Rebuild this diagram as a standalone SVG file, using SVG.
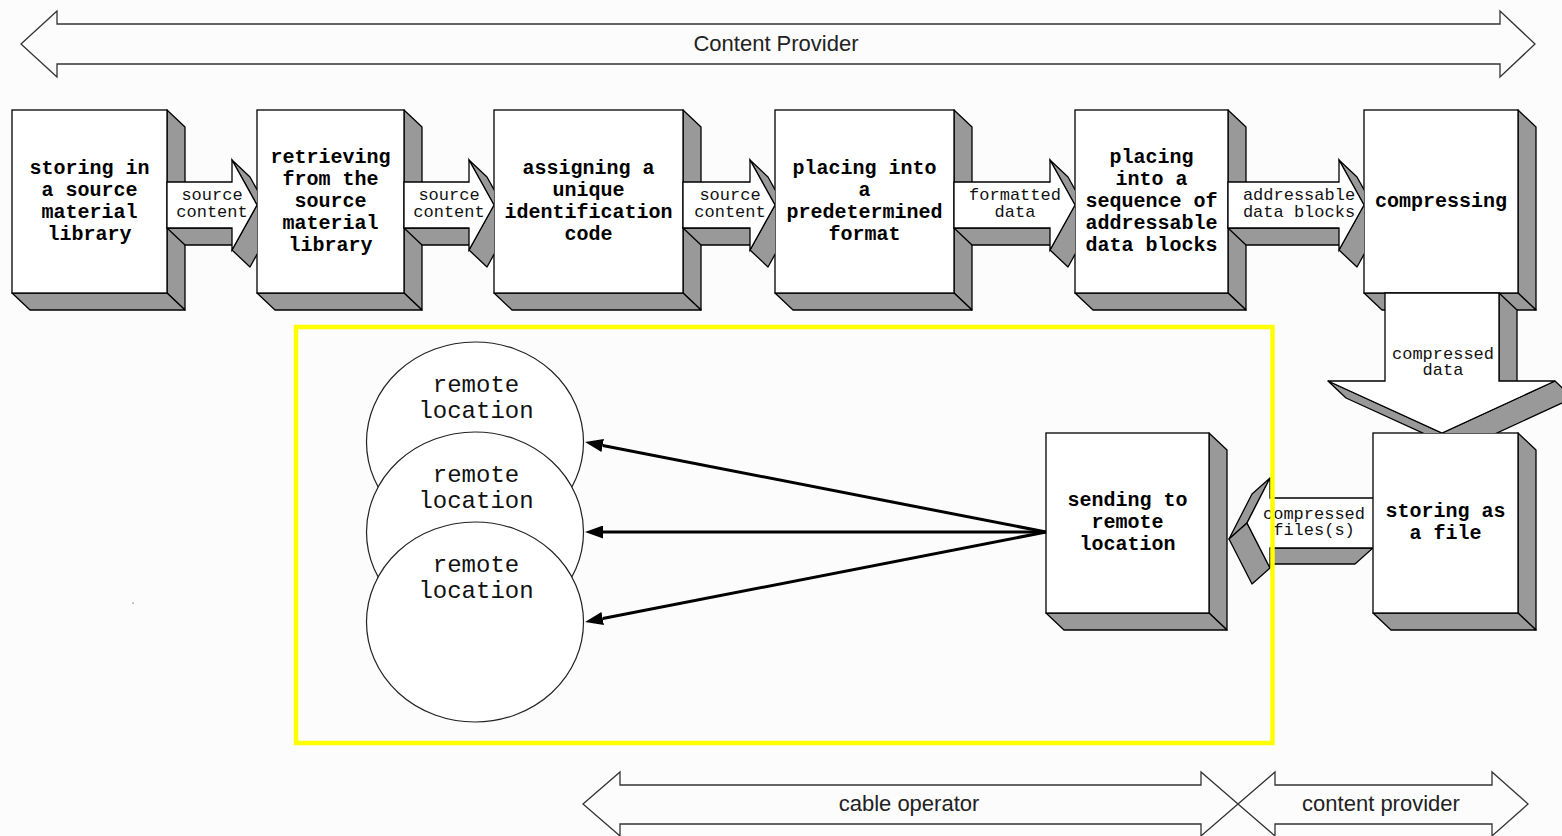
<svg xmlns="http://www.w3.org/2000/svg" width="1562" height="836" viewBox="0 0 1562 836">
<style>
.face{fill:#fff;stroke:#000;stroke-width:1.3;stroke-linejoin:miter}
.shade{fill:#999;stroke:#000;stroke-width:1.3;stroke-linejoin:round}
.bt{font-family:"Liberation Mono","DejaVu Sans Mono",monospace;font-weight:bold;font-size:20px;text-anchor:middle;fill:#000}
.lbl{font-family:"Liberation Mono","DejaVu Sans Mono",monospace;font-size:17px;text-anchor:middle;fill:#111}
.circ{fill:#fff;stroke:#222;stroke-width:1.2}
.ct{font-family:"Liberation Mono","DejaVu Sans Mono",monospace;font-size:24px;text-anchor:middle;fill:#111}
.span{fill:none;stroke:#333;stroke-width:1.3;stroke-linejoin:miter}
.st{font-family:"Liberation Sans",Arial,sans-serif;font-size:22px;text-anchor:middle;fill:#222}
.send{fill:none;stroke:#000;stroke-width:3}
</style>
<defs>
<marker id="ah" markerUnits="userSpaceOnUse" markerWidth="18" markerHeight="13" viewBox="0 0 18 13" refX="0" refY="6.5" orient="auto">
<path d="M0,0 L18,6.5 L0,13 z" fill="#000"/>
</marker>
<clipPath id="c1"><rect x="160" y="140" width="97" height="140"/></clipPath>
<clipPath id="c2"><rect x="400" y="140" width="94" height="140"/></clipPath>
<clipPath id="c3"><rect x="680" y="140" width="95" height="140"/></clipPath>
<clipPath id="c4"><rect x="950" y="140" width="125" height="140"/></clipPath>
<clipPath id="c5"><rect x="1225" y="140" width="139" height="140"/></clipPath>
<clipPath id="cd"><rect x="1300" y="285" width="262" height="148"/></clipPath>
<clipPath id="cl"><rect x="1228" y="460" width="145" height="140"/></clipPath>
</defs>
<rect x="0" y="0" width="1562" height="836" fill="#fcfcfc"/>

<g id="span-top">
<path class="span" d="M21,44 L57,11 L57,24 L1500,24 L1500,11 L1535,44 L1500,77 L1500,64 L57,64 L57,77 Z"/>
<text class="st" x="776" y="51">Content Provider</text>
</g>

<g id="n1">
<polygon class="shade" points="167,110 185,127 185,310 167,293"/>
<polygon class="shade" points="12,293 167,293 185,310 30,310"/>
<rect class="face" x="12" y="110" width="155" height="183"/>
<text class="bt" x="89.5" y="173.5">storing in</text>
<text class="bt" x="89.5" y="195.5">a source</text>
<text class="bt" x="89.5" y="217.5">material</text>
<text class="bt" x="89.5" y="239.5">library</text>
</g>
<g id="n2">
<polygon class="shade" points="404,110 422,127 422,310 404,293"/>
<polygon class="shade" points="257,293 404,293 422,310 275,310"/>
<rect class="face" x="257" y="110" width="147" height="183"/>
<text class="bt" x="330.5" y="162.5">retrieving</text>
<text class="bt" x="330.5" y="184.5">from the</text>
<text class="bt" x="330.5" y="206.5">source</text>
<text class="bt" x="330.5" y="228.5">material</text>
<text class="bt" x="330.5" y="250.5">library</text>
</g>
<g id="n3">
<polygon class="shade" points="683,110 701,127 701,310 683,293"/>
<polygon class="shade" points="494,293 683,293 701,310 512,310"/>
<rect class="face" x="494" y="110" width="189" height="183"/>
<text class="bt" x="588.5" y="173.5">assigning a</text>
<text class="bt" x="588.5" y="195.5">unique</text>
<text class="bt" x="588.5" y="217.5">identification</text>
<text class="bt" x="588.5" y="239.5">code</text>
</g>
<g id="n4">
<polygon class="shade" points="954,110 972,127 972,310 954,293"/>
<polygon class="shade" points="775,293 954,293 972,310 793,310"/>
<rect class="face" x="775" y="110" width="179" height="183"/>
<text class="bt" x="864.5" y="173.5">placing into</text>
<text class="bt" x="864.5" y="195.5">a</text>
<text class="bt" x="864.5" y="217.5">predetermined</text>
<text class="bt" x="864.5" y="239.5">format</text>
</g>
<g id="n5">
<polygon class="shade" points="1228,110 1246,127 1246,310 1228,293"/>
<polygon class="shade" points="1075,293 1228,293 1246,310 1093,310"/>
<rect class="face" x="1075" y="110" width="153" height="183"/>
<text class="bt" x="1151.5" y="162.5">placing</text>
<text class="bt" x="1151.5" y="184.5">into a</text>
<text class="bt" x="1151.5" y="206.5">sequence of</text>
<text class="bt" x="1151.5" y="228.5">addressable</text>
<text class="bt" x="1151.5" y="250.5">data blocks</text>
</g>
<g id="n6">
<polygon class="shade" points="1518,110 1536,127 1536,310 1518,293"/>
<polygon class="shade" points="1364,293 1518,293 1536,310 1382,310"/>
<rect class="face" x="1364" y="110" width="154" height="183"/>
<text class="bt" x="1441" y="206.5">compressing</text>
</g>
<g id="n7">
<polygon class="shade" points="1518,433 1536,450 1536,630 1518,613"/>
<polygon class="shade" points="1373,613 1518,613 1536,630 1391,630"/>
<rect class="face" x="1373" y="433" width="145" height="180"/>
<text class="bt" x="1445.5" y="517">storing as</text>
<text class="bt" x="1445.5" y="539">a file</text>
</g>
<g id="n8">
<polygon class="shade" points="1209,433 1227,450 1227,630 1209,613"/>
<polygon class="shade" points="1046,613 1209,613 1227,630 1064,630"/>
<rect class="face" x="1046" y="433" width="163" height="180"/>
<text class="bt" x="1127.5" y="506">sending to</text>
<text class="bt" x="1127.5" y="528">remote</text>
<text class="bt" x="1127.5" y="550">location</text>
</g>
<g id="r1">
<ellipse class="circ" cx="475" cy="442" rx="108.5" ry="100"/>
<text class="ct" x="476" y="392">remote</text>
<text class="ct" x="476" y="418">location</text>
</g>
<g id="r2">
<ellipse class="circ" cx="475" cy="532" rx="108.5" ry="100"/>
<text class="ct" x="476" y="482">remote</text>
<text class="ct" x="476" y="508">location</text>
</g>
<g id="r3">
<ellipse class="circ" cx="475" cy="622" rx="108.5" ry="100"/>
<text class="ct" x="476" y="572">remote</text>
<text class="ct" x="476" y="598">location</text>
</g>

<g id="connectors">
<g clip-path="url(#c1)">
<polygon class="shade" points="167,228 232,228 250,245 185,245"/>
<polygon class="shade" points="232,160 257,205 275,222 250,177"/>
<polygon class="shade" points="232,250 257,205 275,222 250,267"/>
<polygon class="face" points="167,182 232,182 232,160 257,205 232,250 232,228 167,228"/>
</g>
<text class="lbl" x="212" y="200">source</text>
<text class="lbl" x="212" y="217">content</text>
<g clip-path="url(#c2)">
<polygon class="shade" points="404,228 469,228 487,245 422,245"/>
<polygon class="shade" points="469,160 494,205 512,222 487,177"/>
<polygon class="shade" points="469,250 494,205 512,222 487,267"/>
<polygon class="face" points="404,182 469,182 469,160 494,205 469,250 469,228 404,228"/>
</g>
<text class="lbl" x="449" y="200">source</text>
<text class="lbl" x="449" y="217">content</text>
<g clip-path="url(#c3)">
<polygon class="shade" points="683,228 750,228 768,245 701,245"/>
<polygon class="shade" points="750,160 775,205 793,222 768,177"/>
<polygon class="shade" points="750,250 775,205 793,222 768,267"/>
<polygon class="face" points="683,182 750,182 750,160 775,205 750,250 750,228 683,228"/>
</g>
<text class="lbl" x="730" y="200">source</text>
<text class="lbl" x="730" y="217">content</text>
<g clip-path="url(#c4)">
<polygon class="shade" points="954,228 1050,228 1068,245 972,245"/>
<polygon class="shade" points="1050,160 1075,205 1093,222 1068,177"/>
<polygon class="shade" points="1050,250 1075,205 1093,222 1068,267"/>
<polygon class="face" points="954,182 1050,182 1050,160 1075,205 1050,250 1050,228 954,228"/>
</g>
<text class="lbl" x="1015" y="200">formatted</text>
<text class="lbl" x="1015" y="217">data</text>
<g clip-path="url(#c5)">
<polygon class="shade" points="1228,228 1339,228 1357,245 1246,245"/>
<polygon class="shade" points="1339,160 1364,205 1382,222 1357,177"/>
<polygon class="shade" points="1339,250 1364,205 1382,222 1357,267"/>
<polygon class="face" points="1228,182 1339,182 1339,160 1364,205 1339,250 1339,228 1228,228"/>
</g>
<text class="lbl" x="1299" y="200">addressable</text>
<text class="lbl" x="1299" y="217">data blocks</text>
<g clip-path="url(#cd)">
<polygon class="shade" points="1499,293 1517,310 1517,398 1499,381"/>
<polygon class="shade" points="1328,381 1442,433 1460,450 1346,398"/>
<polygon class="shade" points="1555,381 1442,433 1460,450 1573,398"/>
<polygon class="face" points="1385,293 1499,293 1499,381 1555,381 1442,433 1328,381 1385,381"/>
</g>
<text class="lbl" x="1443" y="358.5">compressed</text>
<text class="lbl" x="1443" y="375">data</text>
<g clip-path="url(#cl)">
<polygon class="shade" points="1373,548 1270,548 1252,564 1355,564"/>
<polygon class="shade" points="1270,478 1247,523 1229,539 1252,494"/>
<polygon class="shade" points="1270,568 1247,523 1229,539 1252,584"/>
<polygon class="face" points="1373,498 1270,498 1270,478 1247,523 1270,568 1270,548 1373,548"/>
</g>
<text class="lbl" x="1314" y="519">compressed</text>
<text class="lbl" x="1314" y="535">files(s)</text>
<line class="send" x1="1046" y1="532" x2="602.7" y2="445.5" marker-end="url(#ah)"/>
<line class="send" x1="1046" y1="532" x2="603" y2="532" marker-end="url(#ah)"/>
<line class="send" x1="1046" y1="532" x2="602.7" y2="618.5" marker-end="url(#ah)"/>
</g>

<g id="cable-operator-zone">
<rect x="296" y="327" width="976.5" height="416" fill="none" stroke="#ffff00" stroke-width="4.5"/>
</g>

<g id="span-cable">
<path class="span" d="M583,804 L620,772 L620,785 L1201,785 L1201,772 L1238,804 L1201,836 L1201,824 L620,824 L620,836 Z"/>
<text class="st" x="909" y="811">cable operator</text>
</g>
<g id="span-provider">
<path class="span" d="M1238,804 L1275,772 L1275,785 L1492,785 L1492,772 L1528,804 L1492,836 L1492,824 L1275,824 L1275,836 Z"/>
<text class="st" x="1381" y="811">content provider</text>
</g>
<rect x="132.5" y="602.5" width="1.2" height="1.2" fill="#666"/>
</svg>
